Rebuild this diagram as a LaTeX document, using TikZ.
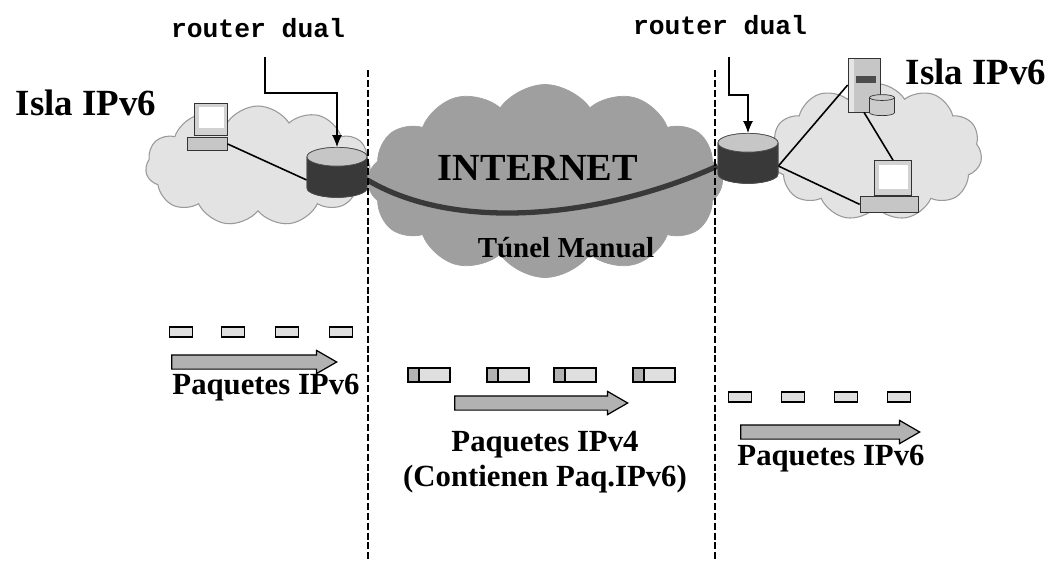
\documentclass[tikz,border=0pt]{standalone}
\usepackage{fontspec}
\setmainfont{Liberation Serif}
\newfontfamily\routerfont{Liberation Mono}
\usetikzlibrary{shapes.symbols,shapes.geometric,shapes.arrows,arrows.meta}

\tikzset{
  island/.style={cloud, cloud puffs=11, cloud puff arc=115, cloud ignores aspect,
    draw=gray!80, fill=gray!22, line width=0.6pt},
  inet/.style={cloud, cloud puffs=12, cloud puff arc=110, cloud ignores aspect,
    fill=gray!75, draw=gray!75},
  router/.style={cylinder, shape border rotate=90, aspect=1.6, draw=black!70,
    cylinder uses custom fill, cylinder body fill=gray!45!black,
    cylinder end fill=gray!45, minimum width=12mm, minimum height=10mm},
  monitor/.style={rectangle, draw=black!80, fill=gray!35, inner sep=0pt,
    path picture={\fill[white] ([shift={(0.8mm,-0.8mm)}]path picture bounding box.north west)
      rectangle ([shift={(-0.8mm,1.4mm)}]path picture bounding box.south east);}},
  tower/.style={rectangle, draw=black!80, fill=gray!45, inner sep=0pt,
    path picture={\fill[gray!20] (path picture bounding box.north west)
      rectangle ([shift={(1.2mm,0mm)}]path picture bounding box.south west);
      \fill[black!70] ([shift={(1.6mm,-3.6mm)}]path picture bounding box.north west)
      rectangle ([shift={(-0.8mm,-5mm)}]path picture bounding box.north east);}},
  kbd/.style={rectangle, draw=black!80, fill=gray!45, inner sep=0pt},
  wire/.style={black, line width=0.9pt},
  tunnel/.style={gray!45!black, line width=3pt},
  callout/.style={black, line width=0.6pt, -{Latex[length=2.4mm,width=2mm]}},
  divider/.style={black, line width=0.6pt, dash pattern=on 4pt off 1.6pt},
  pkt6/.style={rectangle, draw=black, line width=0.8pt, fill=gray!25,
    minimum width=4.6mm, minimum height=2mm, inner sep=0pt},
  pkt4/.style={rectangle, draw=black, line width=0.8pt, fill=gray!25,
    minimum width=8.4mm, minimum height=2.8mm, inner sep=0pt,
    path picture={\fill[gray!60] (path picture bounding box.south west)
      rectangle ([xshift=2.2mm]path picture bounding box.north west);
      \draw[black, line width=0.6pt] ([xshift=2.2mm]path picture bounding box.south west)
      -- ([xshift=2.2mm]path picture bounding box.north west);}},
  flow/.style={single arrow, draw=black, fill=gray!60, line width=0.7pt,
    inner xsep=0pt, inner ysep=1.3mm, single arrow head extend=0.9mm,
    single arrow tip angle=60},
  title/.style={font=\bfseries\fontsize{21}{24}\selectfont},
  note/.style={font=\bfseries\fontsize{17.5}{20}\selectfont, align=center},
  lbl/.style={font=\routerfont\bfseries\fontsize{15}{17}\selectfont}
}

\begin{document}
\begin{tikzpicture}[x=0.2mm, y=-0.2mm]
    \useasboundingbox (0,0) rectangle (1056,562);

    % Clouds
    \node[inet, minimum width=71mm, minimum height=38.6mm] (net) at (545,181) {};
    \node[island, minimum width=45mm, minimum height=24mm] (isl1) at (258,166) {};
    \node[island, minimum width=42.4mm, minimum height=27.4mm] (isl2) at (876,152) {};

    % Hosts
    \node[monitor, minimum width=6.6mm, minimum height=6.4mm] (pc1) at (211,119) {};
    \node[kbd, minimum width=8mm, minimum height=2.6mm, anchor=north] (kb1) at (207,137) {};
    \node[tower, minimum width=6.4mm, minimum height=10.8mm] (srv) at (864,85) {};
    \node[cylinder, shape border rotate=90, aspect=0.5, draw=black!80, fill=gray!40,
      minimum width=5mm, minimum height=4.2mm] (disk) at (882,108) {};
    \node[monitor, minimum width=7.4mm, minimum height=7mm] (pc2) at (893,178) {};
    \node[kbd, minimum width=11.6mm, minimum height=3.2mm, anchor=north] (kb2) at (889,196) {};

    % Routers
    \node[router] (r1) at (337,180) {};
    \node[router] (r2) at (748,166) {};

    % Links
    \draw[wire] (kb1.east) -- (r1.west);
    \draw[wire] (r2.east) -- (srv.west);
    \draw[wire] (r2.east) -- (kb2.west);
    \draw[wire] (srv.south) -- (pc2.north);
    \draw[tunnel] (r1.east) .. controls (460,235) and (610,215) .. (r2.west);
    \node[router] at (r1) {};
    \node[router] at (r2) {};

    % Labels
    \node[title] (isla1) at (86,103) {Isla IPv6};
    \node[title] (isla2) at (976,72) {Isla IPv6};
    \node[font=\bfseries\fontsize{21.8}{24}\selectfont] (inettxt) at (538,168) {INTERNET};
    \node[font=\bfseries\fontsize{16.5}{19}\selectfont] (tun) at (566,248) {Túnel Manual};
    \node[lbl] (lbl1) at (258,28) {router dual};
    \node[lbl] (lbl2) at (720,25) {router dual};

    % Callouts
    \coordinate (c1) at (265,57);
    \coordinate (c2) at (729,57);
    \draw[callout] (c1) -- ++(0,36) -| (r1.north);
    \draw[callout] (c2) -- ++(0,38) -| (r2.north);

    % Dividers
    \coordinate (d1t) at (368,70);
    \coordinate (d1b) at (368,562);
    \coordinate (d2t) at (715,70);
    \coordinate (d2b) at (715,562);
    \draw[divider] (d1t) -- (d1b);
    \draw[divider] (d2t) -- (d2b);

    % Packets
    \foreach \x/\n in {181/1,233/2,287/3,341/4}
        \node[pkt6] (pa\n) at (\x,332) {};
    \foreach \x/\n in {429/1,508/2,575/3,654/4}
        \node[pkt4] (pb\n) at (\x,375) {};
    \foreach \x/\n in {740/1,793/2,846/3,899/4}
        \node[pkt6] (pc\n) at (\x,397) {};

    % Flow arrows
    \node[flow, minimum height=33mm] (fa) at (248,362) {};
    \node[flow, minimum height=34.6mm] (fb) at (535,403) {};
    \node[flow, minimum height=35.8mm] (fc) at (824,432) {};

    \node[note] (na) at (266,388) {Paquetes IPv6};
    \node[note] (nb) at (545,462) {Paquetes IPv4\\(Contienen Paq.IPv6)};
    \node[note] (nc) at (831,459) {Paquetes IPv6};
\end{tikzpicture}
\end{document}
